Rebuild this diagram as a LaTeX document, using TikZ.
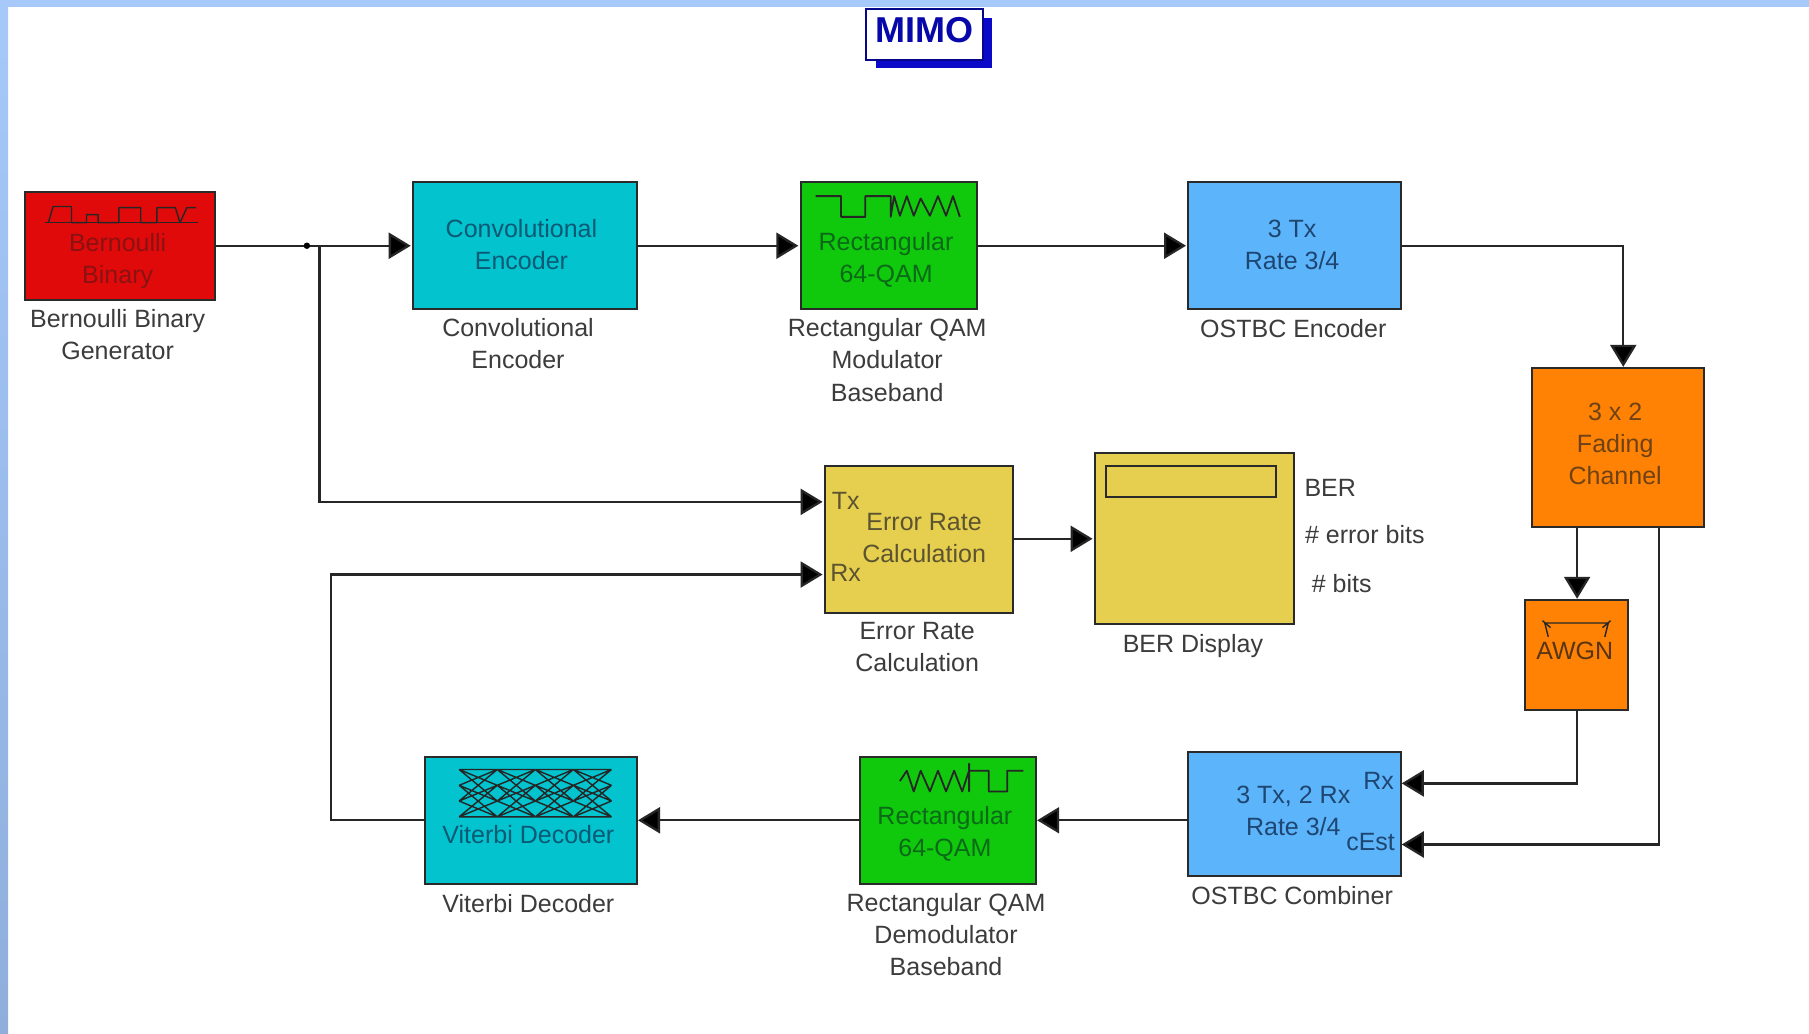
\documentclass[tikz,border=0pt]{standalone}
\usepackage{fontspec}
\setmainfont{Liberation Sans}
\usetikzlibrary{arrows.meta}
\definecolor{cred}{HTML}{E00A0A}\definecolor{tred}{HTML}{8A1212}
\definecolor{ccyan}{HTML}{02C3CE}\definecolor{tcyan}{HTML}{0A5A75}
\definecolor{cgreen}{HTML}{10C80C}\definecolor{tgreen}{HTML}{0A6A18}
\definecolor{cblue}{HTML}{5CB4FB}\definecolor{tblue}{HTML}{1E4672}
\definecolor{corange}{HTML}{FF8204}\definecolor{torange}{HTML}{6E4216}
\definecolor{cyellow}{HTML}{E6CE4E}\definecolor{tyellow}{HTML}{5C5430}
\definecolor{edgec}{HTML}{2A2A2A}
\definecolor{capc}{HTML}{3C3C3C}
\definecolor{strip}{HTML}{A6C9FA}
\definecolor{stripb}{HTML}{8FAEDC}
\definecolor{mimoblue}{HTML}{0A0AC8}
\def\u{0.57685pt}
\tikzset{
  blk/.style={draw=edgec,line width=1pt,rectangle,inner sep=0pt,outer sep=0pt},
  captxt/.style={align=center,text=capc,font=\fontsize{12.5}{16.1}\selectfont,inner sep=0pt},
  labtxt/.style={align=center,font=\fontsize{12.5}{16.1}\selectfont,inner sep=0pt},
  wire/.style={draw=black!85,line width=1.15pt},
  arr/.style={wire,-{Triangle[length=11pt,width=13pt,fill=black]}},
  iconline/.style={draw=black!85,line width=0.7pt,line join=round}
}
\newcommand{\blk}[6]{\node[blk,fill=#6,minimum width={(#4-#2)*\u},minimum height={(#5-#3)*\u}] (#1) at ({(#2+#4)/2},{(#3+#5)/2}) {};}
\begin{document}
\begin{tikzpicture}[x=\u,y=-\u]
\useasboundingbox (0,0) rectangle (1568,896);
\fill[white] (0,0) rectangle (1568,896);
\shade[top color=strip,bottom color=stripb] (0,0) rectangle (7,896);
\fill[strip] (0,0) rectangle (1568,6);
% MIMO
\fill[mimoblue] (759,16) rectangle (860,59);
\node[draw=mimoblue!70!black,line width=1pt,fill=white,minimum width={101*\u},minimum height={44*\u},inner sep=0pt] (mimo) at (801.5,30) {};
\node[text=mimoblue!85!black,font=\bfseries\fontsize{18}{20}\selectfont,inner sep=0pt] (mimot) at (801.5,26) {MIMO};
% blocks
\blk{bern}{22}{166}{186}{260}{cred}
\blk{conv}{358}{158}{552}{268}{ccyan}
\blk{mod}{694}{158}{847}{268}{cgreen}
\blk{enc}{1030}{158}{1214}{268}{cblue}
\blk{fad}{1328}{319}{1477}{457}{corange}
\blk{awgn}{1322}{520}{1411}{615}{corange}
\blk{comb}{1030}{652}{1214}{759}{cblue}
\blk{dem}{745}{656}{898}{766}{cgreen}
\blk{vit}{368}{656}{552}{766}{ccyan}
\blk{err}{715}{404}{878}{531}{cyellow}
\blk{ber}{949}{393}{1122}{541}{cyellow}
\blk{berw}{959}{404}{1106}{431}{cyellow}
% block texts
\node[labtxt,text=tred] (t1) at (102,226) {Bernoulli\\Binary};
\node[labtxt,text=tcyan] (t2) at (452,212) {Convolutional\\Encoder};
\node[labtxt,text=tgreen] (t3) at (768,225) {Rectangular\\64-QAM};
\node[labtxt,text=tblue] (t4) at (1120,212) {3 Tx\\Rate 3/4};
\node[labtxt,text=torange] (t5) at (1400,385) {3 x 2\\Fading\\Channel};
\node[labtxt,text=torange!80!black] (t6) at (1365,564) {AWGN};
\node[labtxt,text=tblue] (t7) at (1121,703) {3 Tx, 2 Rx\\Rate 3/4};
\node[labtxt,text=tblue] (t7a) at (1195,677) {Rx};
\node[labtxt,text=tblue] (t7b) at (1188,730) {cEst};
\node[labtxt,text=tgreen] (t8) at (819,723) {Rectangular\\64-QAM};
\node[labtxt,text=tcyan] (t9) at (458,723) {Viterbi Decoder};
\node[labtxt,text=tyellow] (t10) at (801,466) {Error Rate\\Calculation};
\node[labtxt,text=tyellow] (t10a) at (733,434) {Tx};
\node[labtxt,text=tyellow] (t10b) at (733,497) {Rx};
% captions
\node[captxt] (c1) at (102,290) {Bernoulli Binary\\Generator};
\node[captxt] (c2) at (449,298) {Convolutional\\Encoder};
\node[captxt] (c3) at (769,312) {Rectangular QAM\\Modulator\\Baseband};
\node[captxt] (c4) at (1121,285) {OSTBC Encoder};
\node[captxt] (c5) at (795,561) {Error Rate\\Calculation};
\node[captxt] (c6) at (1034,560) {BER Display};
\node[captxt] (c7) at (1120,776) {OSTBC Combiner};
\node[captxt] (c8) at (820,810) {Rectangular QAM\\Demodulator\\Baseband};
\node[captxt] (c9) at (458,783) {Viterbi Decoder};
\node[captxt] (b1) at (1153,423) {BER};
\node[captxt] (b2) at (1183,463) {\# error bits};
\node[captxt] (b3) at (1163,506) {\# bits};
% icons
\draw[iconline] (39,193) -- (172,193);
\draw[iconline] (42,193) -- (46,179) -- (62,179) -- (62,193) -- (75,193) -- (75,186) -- (85,186) -- (85,193) -- (103,193) -- (103,180) -- (122,180) -- (122,193) -- (136,193) -- (136,180) -- (152,180) -- (156,193) -- (162,180) -- (170,180);
\draw[iconline,line width=0.9pt] (707,170) -- (729,170) -- (729,188) -- (750,188) -- (750,170) -- (772,170) -- (772,188) -- (775,170) -- (780,187) -- (786,170) -- (792,187) -- (798,172) -- (806,187) -- (813,170) -- (820,187) -- (826,170) -- (832,188);
\draw[iconline,line width=0.9pt] (780,677) -- (786,668) -- (792,686) -- (798,668) -- (806,686) -- (813,668) -- (820,686) -- (827,668) -- (834,686) -- (840,668) -- (840,662) -- (840,686) -- (840,668) -- (857,668) -- (857,686) -- (873,686) -- (873,668) -- (887,668);
\draw[iconline] (1339,540) -- (1394,540) (1339,540) -- (1342,552) (1394,540) -- (1391,552) (1337,538) -- (1344,544) (1396,538) -- (1389,544);
\foreach \a/\b in {398/431,431/464,464/497,497/530}{
  \draw[iconline] (\a,667) -- (\b,667) (\a,708) -- (\b,708)
    (\a,667) -- (\b,680.7) (\a,680.7) -- (\b,667)
    (\a,667) -- (\b,694.3) (\a,694.3) -- (\b,667)
    (\a,680.7) -- (\b,708) (\a,708) -- (\b,680.7)
    (\a,694.3) -- (\b,708) (\a,708) -- (\b,694.3)
    (\a,680.7) -- (\b,694.3) (\a,694.3) -- (\b,680.7);
}
% ports
\coordinate (junc) at (277,213);
\coordinate (dot) at (266,213);
\coordinate (ertx) at (713,435);
\coordinate (errx) at (713,498);
\coordinate (ero) at (878,467);
\coordinate (bein) at (947,467);
\coordinate (fin) at (1407,318);
\coordinate (fo1) at (1367,457);
\coordinate (fo2) at (1438,457);
\coordinate (awin) at (1367,519);
\coordinate (awo) at (1367,615);
\coordinate (crx) at (1215,679);
\coordinate (cest) at (1215,732);
\coordinate (cout) at (1030,711);
\coordinate (dein) at (899,711);
\coordinate (deo) at (745,711);
\coordinate (viin) at (553,711);
\coordinate (vio) at (368,711);
\coordinate (bk) at (287,711);
\coordinate (bk2) at (287,498);
\coordinate (eny) at (1214,213);
\coordinate (p1) at (356,213);
\coordinate (p2) at (692,213);
\coordinate (p3) at (1028,213);
% connectors
\draw[arr] (bern.east |- dot) -- (p1);
\fill[black] (dot) circle (2.8);
\draw[arr] (conv.east |- dot) -- (p2);
\draw[arr] (mod.east |- dot) -- (p3);
\draw[arr] (eny) -| (fin);
\draw[arr] (fo1) -- (awin);
\draw[arr] (awo) |- (crx);
\draw[arr] (fo2) |- (cest);
\draw[arr] (cout) -- (dein);
\draw[arr] (deo) -- (viin);
\draw[arr] (vio) -- (bk) -- (bk2) -- (errx);
\draw[arr] (junc) |- (ertx);
\draw[arr] (ero) -- (bein);
\end{tikzpicture}
\end{document}
